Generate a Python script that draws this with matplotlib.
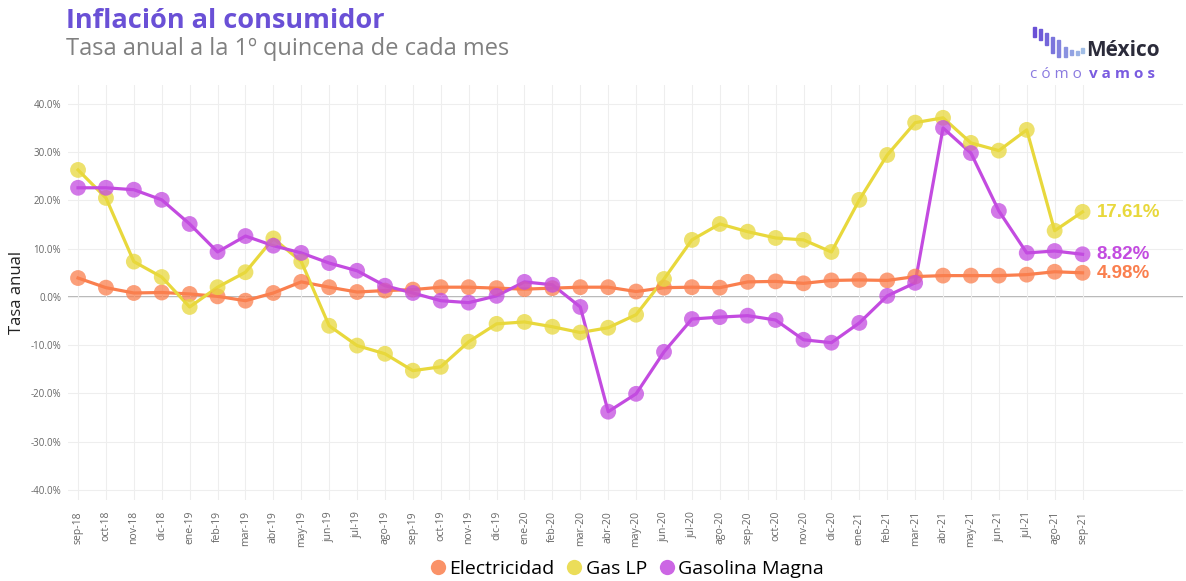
import matplotlib
matplotlib.use("Agg")
import matplotlib.pyplot as plt
from matplotlib.lines import Line2D
from matplotlib.ticker import FuncFormatter, MultipleLocator
import matplotlib.patches as mpatches

months = ["sep-18","oct-18","nov-18","dic-18","ene-19","feb-19","mar-19","abr-19","may-19",
          "jun-19","jul-19","ago-19","sep-19","oct-19","nov-19","dic-19","ene-20","feb-20",
          "mar-20","abr-20","may-20","jun-20","jul-20","ago-20","sep-20","oct-20","nov-20",
          "dic-20","ene-21","feb-21","mar-21","abr-21","may-21","jun-21","jul-21","ago-21","sep-21"]

electricidad = [3.9, 1.9, 0.8, 0.9, 0.6, 0.1, -0.8, 0.8, 3.1, 2.0, 1.0, 1.3, 1.5, 2.0, 2.0, 1.8,
                1.6, 1.8, 2.0, 2.0, 1.1, 1.9, 2.0, 1.9, 3.1, 3.2, 2.8, 3.4, 3.5, 3.4, 4.2, 4.4,
                4.4, 4.4, 4.6, 5.2, 4.98]
gas_lp = [26.3, 20.5, 7.3, 4.1, -2.1, 2.0, 5.1, 12.1, 7.3, -6.0, -10.1, -11.8, -15.3, -14.5,
          -9.3, -5.6, -5.2, -6.2, -7.4, -6.4, -3.7, 3.7, 11.8, 15.1, 13.5, 12.2, 11.8, 9.3,
          20.1, 29.4, 36.1, 37.1, 31.9, 30.3, 34.6, 13.7, 17.61]
gasolina = [22.6, 22.6, 22.2, 20.1, 15.1, 9.3, 12.6, 10.6, 9.1, 7.0, 5.4, 2.3, 0.8, -0.8, -1.2,
            0.2, 3.1, 2.5, -2.1, -23.8, -20.1, -11.4, -4.6, -4.2, -3.9, -4.8, -8.9, -9.5, -5.4,
            0.2, 2.9, 35.0, 29.8, 17.8, 9.1, 9.5, 8.82]

series_names = ["Electricidad", "Gas LP", "Gasolina Magna"]
colors = ["#FA7F4E", "#E8D83C", "#C34BE0"]

plt.rcParams['font.family'] = ['Open Sans', 'DejaVu Sans']

fig = plt.figure(figsize=(11.86, 5.81), dpi=100)
ax = fig.add_axes([68/1186, 81/581, (1183-68)/1186, 415/581])

x = list(range(len(months)))
for vals, col, name in zip([electricidad, gas_lp, gasolina], colors, series_names):
    ax.plot(x, vals, color=col, lw=2.3, zorder=3)
    ax.scatter(x, vals, s=130, color=col, alpha=0.75, edgecolors='none', zorder=4)

ax.set_xlim(-0.36, 39.6)
ax.set_ylim(-42.1, 43.9)
ax.set_xticks(x)
ax.set_xticklabels(months, rotation=90, fontsize=7.5, color="#666666")
ax.yaxis.set_major_locator(MultipleLocator(10))
ax.yaxis.set_major_formatter(FuncFormatter(lambda v, p: f"{v:.1f}%"))
ax.tick_params(axis='y', labelsize=7, colors="#666666", length=0, pad=5)
ax.tick_params(axis='x', length=0, pad=8)
ax.grid(True, color="#EEEEEE", lw=0.8, zorder=0)
ax.axhline(0, color="#AAAAAA", lw=1.2, zorder=1)
for s in ax.spines.values():
    s.set_visible(False)
ax.set_ylabel("Tasa anual", fontsize=12, color="#222222", labelpad=4)

# end labels
end_vals = [electricidad[-1], gas_lp[-1], gasolina[-1]]
for v, col in zip(end_vals, colors):
    ax.annotate(f"{v:.2f}%", (x[-1], v), xytext=(10, -0.5), textcoords='offset points',
                color=col, fontsize=13.5, fontweight='bold', va='center', ha='left',
                family=['Liberation Sans', 'DejaVu Sans'])

# titles
fig.text(66/1186, 1 - 21/581, "Inflación al consumidor", fontsize=19.5, fontweight='bold',
         color="#6A50D6", va='center', ha='left', family=['Open Sans', 'DejaVu Sans'])
fig.text(66/1186, 1 - 49/581, "Tasa anual a la 1º quincena de cada mes", fontsize=17,
         color="#808080", va='center', ha='left', family=['Open Sans', 'DejaVu Sans'])

# logo (decorative bars + text)
bars = [(1033, 27, 37), (1039, 29, 40), (1045, 33, 45), (1051, 37, 53), (1057, 40, 57),
        (1064, 47, 57), (1070, 50, 55), (1076, 51, 55), (1081, 48, 53)]
bcols = ["#6A50D6", "#6E5AD8", "#7466DA", "#7A74DC", "#8282DE", "#8A92E0", "#92A2E2", "#9AB2E4", "#A2BEE6"]
for (xb, yt, yb), c in zip(bars, bcols):
    fig.patches.append(mpatches.Rectangle((xb/1186, 1 - yb/581), 2.6/1186, (yb - yt)/581,
                                          transform=fig.transFigure, color=c, zorder=5))
fig.text(1086/1186, 1 - 50/581, "México", fontsize=15, fontweight='bold', color="#2B2B3A",
         va='center', ha='left', family=['Open Sans', 'DejaVu Sans'])
fig.text(1030/1186, 1 - 74/581, "c ó m o", fontsize=11, color="#8A7AE0", va='center', ha='left',
         family=['Open Sans', 'DejaVu Sans'])
fig.text(1089/1186, 1 - 74/581, "v a m o s", fontsize=11, fontweight='bold', color="#7A5CE0",
         va='center', ha='left', family=['Open Sans', 'DejaVu Sans'])

# legend
handles = [Line2D([0], [0], marker='o', color='none', markerfacecolor=c, markeredgecolor='none',
                  markersize=11, alpha=0.85) for c in colors]
fig.legend(handles, series_names, loc='center', bbox_to_anchor=(626/1186, 1 - 569/581), ncol=3,
           frameon=False, fontsize=14, handletextpad=0.1, columnspacing=0.5, handlelength=1.0)

fig.savefig("out.png", dpi=100)
